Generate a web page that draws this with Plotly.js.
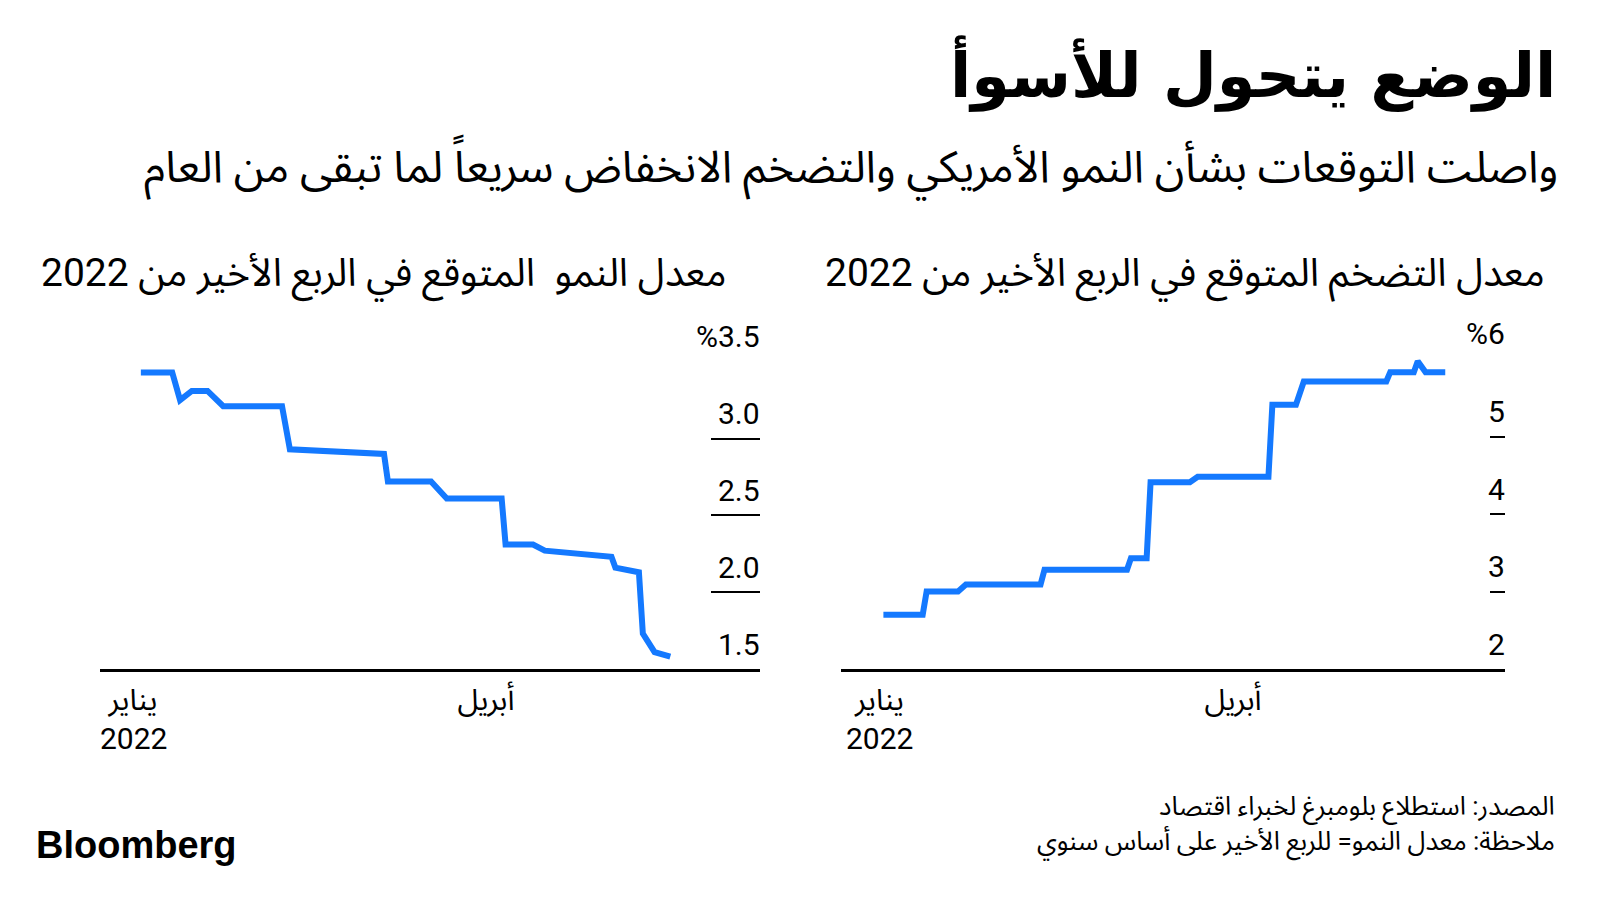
<!DOCTYPE html>
<html>
<head>
<meta charset="utf-8">
<script src="https://cdn.plot.ly/plotly-3.0.1.min.js"></script>
<style>
  html, body { margin: 0; padding: 0; background: #ffffff; }
  #chart { width: 1600px; height: 900px; }
</style>
</head>
<body>
<div id="chart"></div>
<script>
// ---- Data ----
var growthDates = ['2022-01-03','2022-01-11','2022-01-13','2022-01-16','2022-01-20','2022-01-24','2022-02-08','2022-02-10','2022-03-06','2022-03-07','2022-03-18','2022-03-22','2022-04-05','2022-04-06','2022-04-13','2022-04-16','2022-05-03','2022-05-04','2022-05-10','2022-05-11','2022-05-14','2022-05-18'];
var growthValues = [3.43,3.43,3.25,3.31,3.31,3.21,3.21,2.93,2.90,2.72,2.72,2.61,2.61,2.31,2.31,2.27,2.23,2.16,2.13,1.73,1.61,1.58];

var inflDates = ['2022-01-02','2022-01-12','2022-01-13','2022-01-21','2022-01-23','2022-02-11','2022-02-12','2022-03-05','2022-03-06','2022-03-10','2022-03-11','2022-03-21','2022-03-23','2022-04-10','2022-04-11','2022-04-17','2022-04-19','2022-05-10','2022-05-11','2022-05-17','2022-05-18','2022-05-20','2022-05-25'];
var inflValues = [2.70,2.70,3.00,3.00,3.09,3.09,3.28,3.28,3.43,3.43,4.41,4.41,4.48,4.48,5.41,5.41,5.71,5.71,5.83,5.83,5.97,5.83,5.83];

var growthTicks = [1.5, 2.0, 2.5, 3.0, 3.5];
var growthTickLabels = ['1.5', '2.0', '2.5', '3.0', '%3.5'];
var inflTicks = [2, 3, 4, 5, 6];
var inflTickLabels = ['2', '3', '4', '5', '%6'];

var monthTickVals = ['2022-01-01', '2022-04-01'];
var monthTickText = ['يناير', 'أبريل'];
var yearTickVal = '2022-01-01';
var yearTickText = '2022';

var titleText = 'الوضع يتحول للأسوأ';
var subtitleText = 'واصلت التوقعات بشأن النمو الأمريكي والتضخم الانخفاض سريعاً لما تبقى من العام';
var growthTitle = 'معدل النمو  المتوقع في الربع الأخير من 2022';
var inflTitle = 'معدل التضخم المتوقع في الربع الأخير من 2022';
var sourceText = 'المصدر: استطلاع بلومبرغ لخبراء اقتصاد';
var noteText = 'ملاحظة: معدل النمو= للربع الأخير على أساس سنوي';

// ---- Styling ----
var RLE = '\u202B', PDF = '\u202C';
var FONT = 'Roboto, "Noto Sans Arabic", "DejaVu Sans", sans-serif';
var BOLDFONT = '"DejaVu Sans", "Noto Sans Arabic", sans-serif';
var BLUE = '#1479ff';

var traces = [
  { x: growthDates, y: growthValues, xaxis: 'x', yaxis: 'y', type: 'scatter', mode: 'lines',
    line: { color: BLUE, width: 6 }, cliponaxis: false, hoverinfo: 'skip' },
  { x: inflDates, y: inflValues, xaxis: 'x2', yaxis: 'y2', type: 'scatter', mode: 'lines',
    line: { color: BLUE, width: 6 }, cliponaxis: false, hoverinfo: 'skip' }
];

function xAxis(domain, range, anchor) {
  return {
    type: 'date', domain: domain, range: range, anchor: anchor,
    showgrid: false, zeroline: false,
    showline: true, linecolor: '#000', linewidth: 3,
    ticks: '', tickvals: monthTickVals, ticktext: monthTickText,
    ticklabelstandoff: 2,
    tickfont: { family: FONT, size: 30, color: '#000' },
    fixedrange: true
  };
}
function yAxis(domain, range, anchor, tickvals, ticklen) {
  return {
    domain: domain, range: range, anchor: anchor, side: 'right',
    showgrid: false, zeroline: false, showline: false,
    ticks: 'inside', ticklen: ticklen, tickwidth: 2, tickcolor: '#000',
    tickvals: tickvals, showticklabels: false, fixedrange: true
  };
}

var annotations = [];
function tickLabels(xref, yref, vals, labels) {
  for (var i = 0; i < vals.length; i++) {
    annotations.push({
      xref: xref, yref: yref, x: 1, y: vals[i], xanchor: 'right', yanchor: 'middle',
      xshift: 2, yshift: 25, showarrow: false, text: labels[i],
      font: { family: FONT, size: 30, color: '#000' }
    });
  }
}
tickLabels('x domain', 'y', growthTicks, growthTickLabels);
tickLabels('x2 domain', 'y2', inflTicks, inflTickLabels);

// year line under the January tick label
['x', 'x2'].forEach(function (xr) {
  annotations.push({
    xref: xr, yref: 'paper', x: yearTickVal, y: 1 - 738/900, xanchor: 'center', yanchor: 'middle',
    showarrow: false, text: yearTickText, font: { family: FONT, size: 30, color: '#000' }
  });
});

function paperText(text, x, y, xanchor, size, family) {
  annotations.push({
    xref: 'paper', yref: 'paper', x: x, y: y, xanchor: xanchor, yanchor: 'middle',
    showarrow: false, text: text, font: { family: family, size: size, color: '#000' }
  });
}
paperText('<b>' + RLE + titleText + PDF + '</b>', 1558/1600, 1 - 74/900, 'right', 62, BOLDFONT);
paperText(RLE + subtitleText + PDF, 1560/1600, 1 - 168/900, 'right', 44, FONT);
paperText(RLE + growthTitle + PDF, 728/1600, 1 - 276/900, 'right', 39, FONT);
paperText(RLE + inflTitle + PDF, 1547/1600, 1 - 276/900, 'right', 39, FONT);
paperText(RLE + sourceText + PDF, 1557/1600, 1 - 808/900, 'right', 26, FONT);
paperText(RLE + noteText + PDF, 1557/1600, 1 - 843/900, 'right', 26, FONT);
paperText('<b>Bloomberg</b>', 34/1600, 1 - 845/900, 'left', 38, '"Liberation Sans", Arial, sans-serif');

var layout = {
  width: 1600, height: 900,
  margin: { l: 0, r: 0, t: 0, b: 0 },
  paper_bgcolor: '#ffffff', plot_bgcolor: '#ffffff',
  showlegend: false,
  xaxis: xAxis([100/1600, 760/1600], ['2021-12-23 14:00', '2022-06-09 21:00'], 'y'),
  yaxis: yAxis([1 - 669/900, 1 - 361.7/900], [1.5, 3.5], 'x', growthTicks, 49),
  xaxis2: xAxis([841/1600, 1505/1600], ['2021-12-22 05:00', '2022-06-09 05:00'], 'y2'),
  yaxis2: yAxis([1 - 669/900, 1 - 359/900], [2, 6], 'x2', inflTicks, 15),
  annotations: annotations
};

Plotly.newPlot('chart', traces, layout, { displayModeBar: false, staticPlot: true });
</script>
</body>
</html>
